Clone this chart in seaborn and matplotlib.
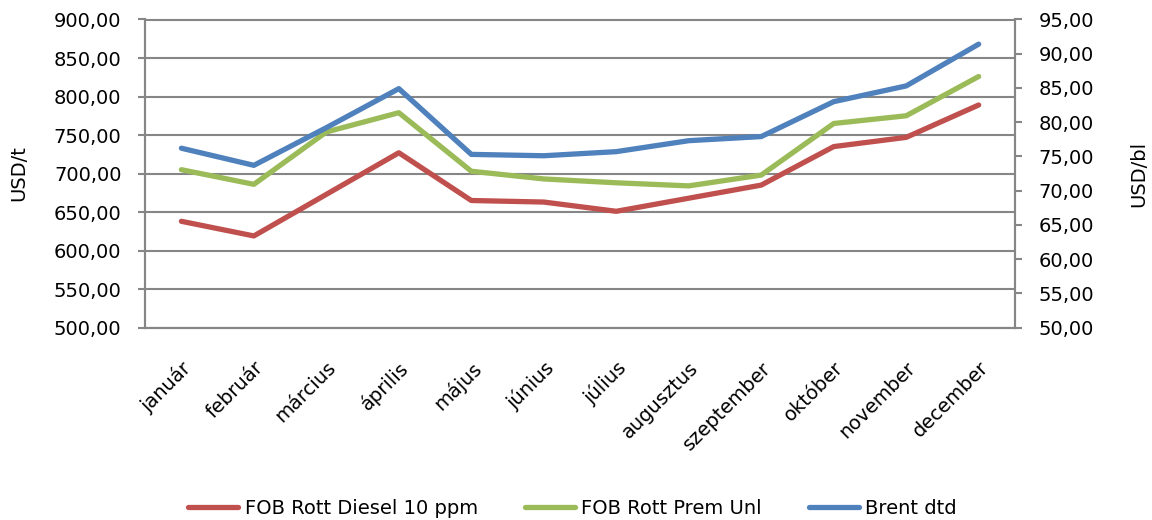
import matplotlib
matplotlib.use("Agg")
import matplotlib.pyplot as plt
import seaborn as sns
import pandas as pd

months = ["január", "február", "március", "április", "május", "június",
          "július", "augusztus", "szeptember", "október", "november", "december"]
diesel = [638, 619, 673, 727, 665, 663, 651, 668, 685, 735, 747, 789]
prem_unl = [705, 686, 754, 779, 703, 693, 688, 684, 698, 765, 775, 826]
brent = [76.2, 73.7, 79.2, 84.9, 75.3, 75.1, 75.7, 77.3, 77.9, 83.0, 85.3, 91.4]

left_ticks = [500, 550, 600, 650, 700, 750, 800, 850, 900]
right_ticks = [50, 55, 60, 65, 70, 75, 80, 85, 90, 95]

sns.set_style("white")
plt.rcParams["font.family"] = ["DejaVu Sans"]
plt.rcParams["text.color"] = "black"
plt.rcParams["axes.labelcolor"] = "black"
plt.rcParams["xtick.labelcolor"] = "black"
plt.rcParams["ytick.labelcolor"] = "black"

df = pd.DataFrame({"x": range(len(months)), "diesel": diesel,
                   "prem": prem_unl, "brent": brent})

red = "#C0504D"
green = "#9BBB59"
blue = "#4F81BD"
grey = "#868686"
fs = 14

fig = plt.figure(figsize=(11.52, 5.2), dpi=100)
ax = fig.add_axes([0.126, 0.370, 0.755, 0.5925])
ax2 = ax.twinx()

sns.lineplot(data=df, x="x", y="diesel", ax=ax, color=red, lw=3.8,
             label="FOB Rott Diesel 10 ppm", legend=False)
sns.lineplot(data=df, x="x", y="prem", ax=ax, color=green, lw=3.8,
             label="FOB Rott Prem Unl", legend=False)
sns.lineplot(data=df, x="x", y="brent", ax=ax2, color=blue, lw=3.8,
             label="Brent dtd", legend=False)

ax.set_xlim(-0.5, len(months) - 0.5)
ax.set_ylim(500, 900)
ax2.set_ylim(50, 95)

ax.set_yticks(left_ticks)
ax.set_yticklabels([f"{v:.2f}".replace(".", ",") for v in left_ticks], fontsize=fs)
ax2.set_yticks(right_ticks)
ax2.set_yticklabels([f"{v:.2f}".replace(".", ",") for v in right_ticks], fontsize=fs)

ax.set_xticks([i - 0.5 for i in range(len(months) + 1)])
ax.set_xticklabels([])
ax.set_xticks(range(len(months)), minor=True)
ax.set_xticklabels(months, minor=True, rotation=45, ha="right",
                   rotation_mode="anchor", fontsize=fs)
ax.tick_params(axis="x", which="minor", length=0, pad=22)
ax.tick_params(axis="x", which="major", length=5, width=1.5, color=grey, direction="out")
ax.tick_params(axis="y", length=5, width=1.5, color=grey, direction="out", pad=12)
ax2.tick_params(axis="y", length=5, width=1.5, color=grey, direction="out", pad=12)

ax.yaxis.grid(True, color=grey, lw=1.5)
ax.set_axisbelow(True)
ax.set_xlabel("")
ax.set_ylabel("USD/t", fontsize=fs)
ax2.set_ylabel("USD/bl", fontsize=fs, rotation=90)
ax.yaxis.set_label_coords(-0.134, 0.5)
ax2.yaxis.set_label_coords(1.131, 0.5)

for a in (ax, ax2):
    for s in a.spines.values():
        s.set_color(grey)
        s.set_linewidth(1.5)
ax2.spines["top"].set_visible(False)

h1, l1 = ax.get_legend_handles_labels()
h2, l2 = ax2.get_legend_handles_labels()
fig.legend(h1 + h2, l1 + l2, loc="center", bbox_to_anchor=(0.497, 0.023), ncol=3,
           frameon=False, fontsize=fs, handlelength=2.57, columnspacing=2.4,
           handletextpad=0.35)

fig.savefig("out.png", dpi=100)
